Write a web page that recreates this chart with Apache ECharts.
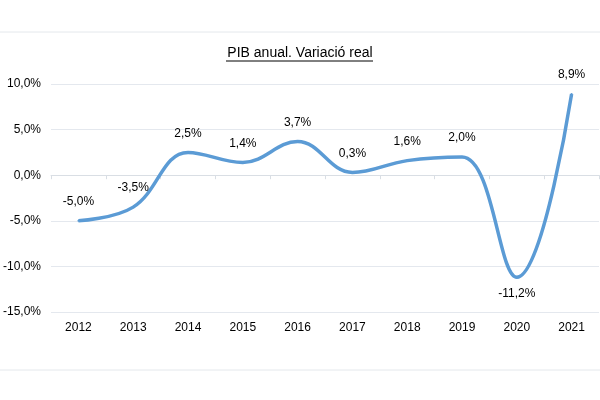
<!DOCTYPE html>
<html>
<head>
<meta charset="utf-8">
<script src="https://cdn.jsdelivr.net/npm/echarts@6/dist/echarts.min.js"></script>
<style>html,body{margin:0;padding:0;background:#fff}#c{width:600px;height:400px}</style>
</head>
<body>
<div id="c"></div>
<script>
const years = ['2012','2013','2014','2015','2016','2017','2018','2019','2020','2021'];
const pib = [-5.0, -3.5, 2.5, 1.4, 3.7, 0.3, 1.6, 2.0, -11.2, 8.9];
const titleText = 'PIB anual. Variació real';
const fmt = v => v.toFixed(1).replace('.', ',') + '%';
const font = '"Liberation Sans", Arial, sans-serif';

const chart = echarts.init(document.getElementById('c'));
chart.setOption({
  animation: false,
  backgroundColor: '#fff',
  textStyle: { fontFamily: font },
  graphic: [
    { type: 'line', shape: { x1: 0, y1: 32, x2: 600, y2: 32 }, style: { stroke: '#e4e8ec', lineWidth: 1 } },
    { type: 'line', shape: { x1: 0, y1: 370, x2: 600, y2: 370 }, style: { stroke: '#e4e8ec', lineWidth: 1 } },
    { type: 'text', x: 300, y: 53, style: { text: titleText, font: '14px ' + font, fill: '#000', align: 'center', verticalAlign: 'middle' } },
    { type: 'line', shape: { x1: 226, y1: 61, x2: 373, y2: 61 }, style: { stroke: '#000', lineWidth: 1 } }
  ],
  grid: { left: 46, right: 1, top: 84, bottom: 88, containLabel: false },
  xAxis: [
    {
      type: 'category', data: years, position: 'top', boundaryGap: true,
      axisLine: { show: true, onZero: true, lineStyle: { color: '#d9dee4', width: 1 } },
      axisTick: { show: true, inside: true, length: 4, lineStyle: { color: '#d9dee4' } },
      axisLabel: { show: false }, splitLine: { show: false }
    },
    {
      type: 'category', data: years, position: 'bottom', boundaryGap: true,
      axisLine: { show: false, onZero: false }, axisTick: { show: false },
      axisLabel: { show: true, color: '#000', fontSize: 12, margin: 10, fontFamily: font }
    }
  ],
  yAxis: {
    type: 'value', min: -15, max: 10, interval: 5,
    axisLine: { show: false }, axisTick: { show: false },
    axisLabel: { color: '#000', fontSize: 12, margin: 10, formatter: fmt, fontFamily: font },
    splitLine: { lineStyle: { color: '#e4e8ee', width: 1 } }
  },
  series: [{
    type: 'line', xAxisIndex: 1, yAxisIndex: 0, smooth: 0.4,
    symbol: 'circle', symbolSize: 2, showSymbol: true,
    itemStyle: { color: '#5b9bd5' },
    lineStyle: { color: '#5b9bd5', width: 3.5 },
    label: {
      show: true, position: 'top', distance: 12, color: '#000', fontSize: 12, fontFamily: font,
      formatter: p => fmt(p.value)
    },
    data: pib.map(v => v < -10 ? { value: v, label: { position: 'bottom', distance: 9 } } : { value: v }),
    z: 3
  }]
});
</script>
</body>
</html>
